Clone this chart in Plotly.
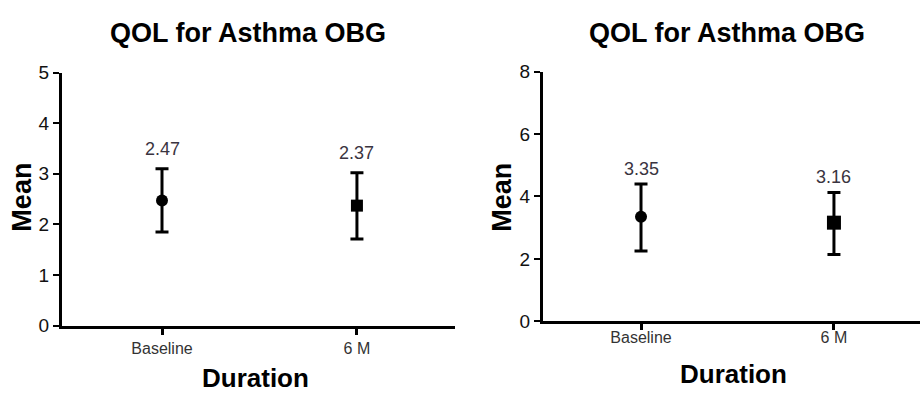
import plotly.graph_objects as go

# Quality-of-life scores (mean ± error) at two time points, two panels
categories = ["Baseline", "6 M"]
positions = [0, 1]

left_means = [2.47, 2.37]
left_err_plus = [0.63, 0.65]
left_err_minus = [0.62, 0.66]

right_means = [3.35, 3.16]
right_err_plus = [1.05, 0.97]
right_err_minus = [1.10, 1.02]

marker_symbols = ["circle", "square"]

FONT = "Liberation Sans, Arial, sans-serif"
LABEL_COLOR = "#3a3440"

fig = go.Figure()


def add_panel(means, ep, em, xa, ya, sizes):
    fig.add_trace(go.Scatter(
        x=positions, y=means, mode="markers",
        marker=dict(color="black", size=sizes, symbol=marker_symbols,
                    opacity=1, line=dict(width=0)),
        error_y=dict(type="data", symmetric=False, array=ep, arrayminus=em,
                     color="black", thickness=3, width=6.5),
        xaxis=xa, yaxis=ya, showlegend=False, cliponaxis=False,
    ))


add_panel(left_means, left_err_plus, left_err_minus, "x", "y", [12, 12])
add_panel(right_means, right_err_plus, right_err_minus, "x2", "y2", [12, 14])

# Value labels above each error bar
for m, p, xpos in zip(left_means, left_err_plus, positions):
    fig.add_annotation(x=xpos, y=m + p, xref="x", yref="y", text=f"{m:.2f}",
                       showarrow=False, yshift=20, yanchor="middle",
                       font=dict(family=FONT, size=18, color=LABEL_COLOR))
for m, p, xpos in zip(right_means, right_err_plus, positions):
    fig.add_annotation(x=xpos, y=m + p, xref="x2", yref="y2", text=f"{m:.2f}",
                       showarrow=False, yshift=15, yanchor="middle",
                       font=dict(family=FONT, size=18, color=LABEL_COLOR))


def label(x_px, y_px, text, size, angle=0):
    fig.add_annotation(x=x_px / 920, y=1 - y_px / 401, xref="paper", yref="paper",
                       xanchor="center", yanchor="middle",
                       text=f"<b>{text}</b>", showarrow=False, textangle=angle,
                       font=dict(family=FONT, size=size, color="black"))


# Panel titles and axis titles
label(248, 24, "QOL for Asthma OBG", 27)
label(727, 24, "QOL for Asthma OBG", 27)
label(255, 388, "Duration", 26)
label(733, 384, "Duration", 26)
label(22, 198, "Mean", 27, -90)
label(502, 197, "Mean", 27, -90)

xcommon = dict(tickvals=positions, ticktext=categories, showgrid=False,
               zeroline=False, showline=True, linecolor="black", linewidth=3,
               ticks="outside", ticklen=6, tickwidth=3, tickcolor="black",
               tickfont=dict(family=FONT, size=16, color="#333333"))
ycommon = dict(showgrid=False, zeroline=False, showline=True, linecolor="black",
               linewidth=3, ticks="outside", ticklen=6, tickwidth=2,
               tickcolor="black", tickfont=dict(family=FONT, size=19, color="#111111"))

fig.update_layout(
    width=920, height=401,
    margin=dict(l=0, r=0, t=0, b=0),
    paper_bgcolor="white", plot_bgcolor="white",
    xaxis=dict(domain=[62 / 920, 455 / 920], range=[-0.513, 1.503],
               anchor="y", ticklabelstandoff=0, **xcommon),
    yaxis=dict(domain=[1 - 333 / 401, 1 - 66 / 401], range=[0, 5],
               tickvals=[0, 1, 2, 3, 4, 5], anchor="x", **ycommon),
    xaxis2=dict(domain=[543 / 920, 1.0], range=[-0.508, 1.446],
                anchor="y2", ticklabelstandoff=-6, **xcommon),
    yaxis2=dict(domain=[1 - 328.5 / 401, 1 - 65 / 401], range=[0, 8],
                tickvals=[0, 2, 4, 6, 8], anchor="x2", **ycommon),
)

fig.write_html("out.html")
